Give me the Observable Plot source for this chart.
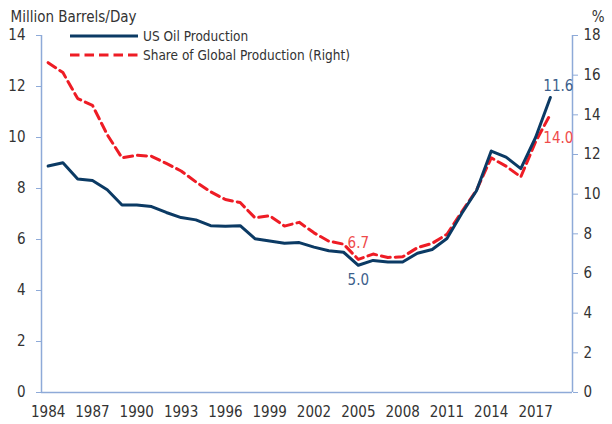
<!DOCTYPE html>
<html><head><meta charset="utf-8">
<script src="https://cdn.jsdelivr.net/npm/d3@7"></script>
<script src="https://cdn.jsdelivr.net/npm/@observablehq/plot@0.6"></script>
<style>
body{margin:0;background:#fff;}
#wrap{position:relative;width:612px;height:424px;font-family:"Liberation Sans Narrow","Arial Narrow","DejaVu Sans Condensed",sans-serif;}
#legend{position:absolute;left:0;top:0;pointer-events:none;}
</style></head><body><div id="wrap"></div>
<script>
const years = d3.range(1984, 2019);
const usProduction = [8.88, 9.01, 8.37, 8.31, 7.95, 7.35, 7.35, 7.29, 7.06, 6.86, 6.77, 6.54, 6.52, 6.54, 6.03, 5.94, 5.85, 5.88, 5.70, 5.56, 5.50, 4.99, 5.18, 5.12, 5.12, 5.46, 5.61, 6.04, 7.02, 7.91, 9.47, 9.23, 8.78, 10.0, 11.57];
const globalShare = [16.63, 16.13, 14.82, 14.48, 13.0, 11.83, 11.96, 11.91, 11.55, 11.17, 10.62, 10.12, 9.73, 9.58, 8.81, 8.91, 8.39, 8.58, 8.05, 7.63, 7.48, 6.71, 6.98, 6.81, 6.84, 7.3, 7.52, 7.98, 9.11, 10.2, 11.83, 11.41, 10.87, 12.64, 14.03];
const xTicks = d3.range(1984, 2018, 3);
const leftTicks = d3.range(0, 15, 2);
const rightTicks = d3.range(0, 19, 2);
const seriesNames = ["US Oil Production", "Share of Global Production (Right)"];
const leftTitle = "Million Barrels/Day";
const rightTitle = "%";

const navy = "#0b3a64", red = "#ee1c25", axisColor = "#8eaad8";
const ratio = 14 / 18;
const xDomain = [1983.55, 2019.5];
const rows = years.map((year, i) => ({year, us: usProduction[i], share: globalShare[i] * ratio}));
const i05 = years.indexOf(2005), i18 = years.indexOf(2018);
const font = '"Liberation Sans Narrow","Arial Narrow","DejaVu Sans Condensed",sans-serif';

const chart = Plot.plot({
  width: 612, height: 424,
  marginLeft: 41, marginRight: 40, marginTop: 35, marginBottom: 32,
  style: {fontFamily: font, fontSize: "15px", color: "#333", background: "white", overflow: "visible"},
  x: {domain: xDomain},
  y: {domain: [0, 14]},
  marks: [
    Plot.ruleX(xDomain, {stroke: axisColor, strokeWidth: 1.5}),
    Plot.ruleY([0], {stroke: axisColor, strokeWidth: 1.5}),
    Plot.axisY(leftTicks, {anchor: "left", tickSize: 5, tickPadding: 11, stroke: axisColor, fill: "#333", label: null}),
    Plot.axisY(rightTicks.map(v => v * ratio), {anchor: "right", tickSize: 5, tickPadding: 6, stroke: axisColor, fill: "#333", tickFormat: d => String(Math.round(d / ratio)), label: null}),
    Plot.axisX(xTicks, {anchor: "bottom", tickSize: 0, tickPadding: 14, fill: "#333", tickFormat: d => String(d), label: null}),
    Plot.lineY(rows, {x: "year", y: "share", stroke: red, strokeWidth: 3, strokeDasharray: "9,5"}),
    Plot.lineY(rows, {x: "year", y: "us", stroke: navy, strokeWidth: 3}),
    Plot.text([rows[i05]], {x: "year", y: "us", text: d => d.us.toFixed(1), dy: 15, fill: "#3d5f8c"}),
    Plot.text([rows[i05]], {x: "year", y: "share", text: d => (d.share / ratio).toFixed(1), dy: -16, fill: "#ef4b4b"}),
    Plot.text([rows[i18]], {x: "year", y: "us", text: d => d.us.toFixed(1), dx: 8, dy: -11, fill: "#3d5f8c"}),
    Plot.text([rows[i18]], {x: "year", y: "share", text: d => (d.share / ratio).toFixed(1), dx: 8, dy: 24, fill: "#ef4b4b"}),
    Plot.text([leftTitle], {frameAnchor: "top-left", lineAnchor: "middle", textAnchor: "start", dx: -31, dy: -18, fill: "#333"}),
    Plot.text([rightTitle], {frameAnchor: "top-right", lineAnchor: "middle", textAnchor: "end", dx: 32, dy: -18, fill: "#333"})
  ]
});
const wrap = document.getElementById("wrap");
wrap.appendChild(chart);

// legend overlay
const ns = "http://www.w3.org/2000/svg";
const leg = document.createElementNS(ns, "svg");
leg.setAttribute("id", "legend");
leg.setAttribute("width", 612);
leg.setAttribute("height", 70);
const items = [
  {name: seriesNames[0], color: navy, dash: null, y: 36},
  {name: seriesNames[1], color: red, dash: "9.5,5", y: 55}
];
for (const it of items) {
  const l = document.createElementNS(ns, "line");
  l.setAttribute("x1", 70); l.setAttribute("x2", 138);
  l.setAttribute("y1", it.y); l.setAttribute("y2", it.y);
  l.setAttribute("stroke", it.color); l.setAttribute("stroke-width", 3);
  if (it.dash) l.setAttribute("stroke-dasharray", it.dash);
  leg.appendChild(l);
  const t = document.createElementNS(ns, "text");
  t.setAttribute("x", 143); t.setAttribute("y", it.y);
  t.setAttribute("dy", "0.35em");
  t.setAttribute("fill", "#333");
  t.setAttribute("font-size", "13.5px");
  t.setAttribute("font-family", font);
  t.textContent = it.name;
  leg.appendChild(t);
}
wrap.appendChild(leg);
</script>
</body></html>
